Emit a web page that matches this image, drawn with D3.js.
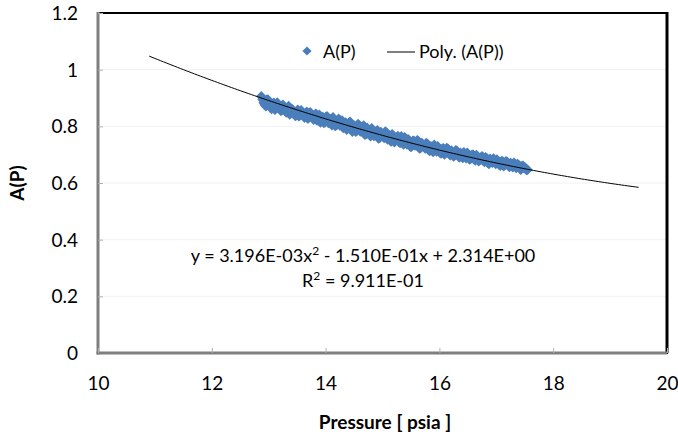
<!DOCTYPE html>
<html>
<head>
<meta charset="utf-8">
<script src="https://cdn.jsdelivr.net/npm/d3@7"></script>
<style>
  html, body { margin: 0; padding: 0; background: #fff; }
  svg { display: block; font-family: Lato, "Open Sans", "Noto Sans", sans-serif; }
</style>
</head>
<body>
<svg id="chart" width="678" height="440"></svg>
<script>
// Measured A(P) values against pressure [psia], first sweep
const pressure = [
  12.87, 12.91, 12.95, 12.99, 13.03, 13.07, 13.11, 13.15, 13.19, 13.23,
  13.27, 13.31, 13.35, 13.39, 13.43, 13.47, 13.51, 13.55, 13.59, 13.63,
  13.67, 13.71, 13.75, 13.79, 13.83, 13.87, 13.91, 13.95, 13.99, 14.03,
  14.07, 14.11, 14.15, 14.19, 14.23, 14.27, 14.31, 14.35, 14.39, 14.43,
  14.47, 14.51, 14.55, 14.59, 14.63, 14.67, 14.71, 14.75, 14.79, 14.83,
  14.87, 14.91, 14.95, 14.99, 15.03, 15.07, 15.11, 15.15, 15.19, 15.23,
  15.27, 15.31, 15.35, 15.39, 15.43, 15.47, 15.51, 15.55, 15.59, 15.63,
  15.67, 15.71, 15.75, 15.79, 15.83, 15.87, 15.91, 15.95, 15.99, 16.03,
  16.07, 16.11, 16.15, 16.19, 16.23, 16.27, 16.31, 16.35, 16.39, 16.43,
  16.47, 16.51, 16.55, 16.59, 16.63, 16.67, 16.71, 16.75, 16.79, 16.83,
  16.87, 16.91, 16.95, 16.99, 17.03, 17.07, 17.11, 17.15, 17.19, 17.23,
  17.27, 17.31, 17.35, 17.39, 17.43, 17.47, 17.51, 17.55
];
const aValues = [
  0.906, 0.883, 0.871, 0.894, 0.871, 0.879, 0.858, 0.884, 0.867, 0.856,
  0.869, 0.849, 0.872, 0.850, 0.854, 0.836, 0.859, 0.839, 0.846, 0.830,
  0.852, 0.833, 0.840, 0.823, 0.845, 0.826, 0.813, 0.833, 0.814, 0.835,
  0.816, 0.804, 0.823, 0.804, 0.827, 0.807, 0.794, 0.814, 0.795, 0.816,
  0.781, 0.797, 0.784, 0.803, 0.784, 0.803, 0.772, 0.786, 0.765, 0.787,
  0.774, 0.786, 0.759, 0.775, 0.759, 0.778, 0.759, 0.746, 0.766, 0.750,
  0.766, 0.741, 0.752, 0.762, 0.736, 0.749, 0.728, 0.749, 0.733, 0.748,
  0.723, 0.736, 0.722, 0.738, 0.713, 0.725, 0.735, 0.711, 0.724, 0.704,
  0.723, 0.708, 0.721, 0.698, 0.710, 0.698, 0.713, 0.690, 0.701, 0.709,
  0.687, 0.700, 0.685, 0.701, 0.679, 0.694, 0.680, 0.695, 0.674, 0.688,
  0.667, 0.681, 0.687, 0.667, 0.678, 0.661, 0.677, 0.663, 0.675, 0.656,
  0.668, 0.672, 0.653, 0.665, 0.647, 0.661, 0.654, 0.647
];

// Second sweep
const pressure2 = [
  12.89, 12.93, 12.97, 13.01, 13.05, 13.09, 13.13, 13.17, 13.21, 13.25,
  13.29, 13.33, 13.37, 13.41, 13.45, 13.49, 13.53, 13.57, 13.61, 13.65,
  13.69, 13.73, 13.77, 13.81, 13.85, 13.89, 13.93, 13.97, 14.01, 14.05,
  14.09, 14.13, 14.17, 14.21, 14.25, 14.29, 14.33, 14.37, 14.41, 14.45,
  14.49, 14.53, 14.57, 14.61, 14.65, 14.69, 14.73, 14.77, 14.81, 14.85,
  14.89, 14.93, 14.97, 15.01, 15.05, 15.09, 15.13, 15.17, 15.21, 15.25,
  15.29, 15.33, 15.37, 15.41, 15.45, 15.49, 15.53, 15.57, 15.61, 15.65,
  15.69, 15.73, 15.77, 15.81, 15.85, 15.89, 15.93, 15.97, 16.01, 16.05,
  16.09, 16.13, 16.17, 16.21, 16.25, 16.29, 16.33, 16.37, 16.41, 16.45,
  16.49, 16.53, 16.57, 16.61, 16.65, 16.69, 16.73, 16.77, 16.81, 16.85,
  16.89, 16.93, 16.97, 17.01, 17.05, 17.09, 17.13, 17.17, 17.21, 17.25,
  17.29, 17.33, 17.37, 17.41, 17.45, 17.49, 17.53
];
const aValues2 = [
  0.895, 0.876, 0.895, 0.880, 0.861, 0.883, 0.867, 0.873, 0.855, 0.876,
  0.855, 0.860, 0.842, 0.861, 0.843, 0.851, 0.835, 0.857, 0.838, 0.846,
  0.827, 0.850, 0.830, 0.841, 0.820, 0.841, 0.825, 0.812, 0.835, 0.812,
  0.825, 0.832, 0.801, 0.816, 0.803, 0.821, 0.802, 0.788, 0.813, 0.794,
  0.805, 0.781, 0.808, 0.782, 0.793, 0.770, 0.795, 0.777, 0.793, 0.766,
  0.782, 0.757, 0.780, 0.764, 0.782, 0.753, 0.768, 0.772, 0.744, 0.759,
  0.745, 0.765, 0.736, 0.747, 0.755, 0.728, 0.748, 0.732, 0.751, 0.722,
  0.741, 0.727, 0.741, 0.716, 0.730, 0.709, 0.724, 0.730, 0.707, 0.721,
  0.700, 0.724, 0.703, 0.715, 0.693, 0.716, 0.697, 0.707, 0.688, 0.699,
  0.707, 0.683, 0.699, 0.684, 0.699, 0.677, 0.690, 0.679, 0.691, 0.671,
  0.686, 0.671, 0.679, 0.683, 0.664, 0.677, 0.659, 0.677, 0.664, 0.671,
  0.655, 0.664, 0.667, 0.652, 0.660, 0.653, 0.646
];

// Second-order polynomial trend: y = c2*x^2 + c1*x + c0
const polyCoeffs = [3.196e-3, -1.510e-1, 2.314];
const trendRange = [10.9, 19.5];
const r2 = 0.9911;

const xTicks = [10, 12, 14, 16, 18, 20];
const yTicks = [0, 0.2, 0.4, 0.6, 0.8, 1.0, 1.2];

const svg = d3.select("#chart");
const plot = { left: 98, top: 13, right: 667, bottom: 353 };

const x = d3.scaleLinear().domain([10, 20]).range([plot.left, plot.right]);
const y = d3.scaleLinear().domain([0, 1.2]).range([plot.bottom, plot.top]);

// Faint horizontal gridlines
svg.append("g")
  .selectAll("line")
  .data(yTicks.slice(1, -1))
  .join("line")
  .attr("x1", plot.left).attr("x2", plot.right)
  .attr("y1", d => y(d)).attr("y2", d => y(d))
  .attr("stroke", "#f2f2f2").attr("stroke-width", 1);

// Plot-area frame
svg.append("rect")
  .attr("x", plot.left).attr("y", plot.top)
  .attr("width", plot.right - plot.left).attr("height", plot.bottom - plot.top)
  .attr("fill", "none").attr("stroke", "#000").attr("stroke-width", 2);
svg.append("line")
  .attr("x1", plot.right).attr("x2", plot.right)
  .attr("y1", plot.top - 1).attr("y2", plot.bottom)
  .attr("stroke", "#000").attr("stroke-width", 3);

// Axes (inner tick marks, gray axis lines)
const fmtY = d => d === 0 ? "0" : (d === 1 ? "1" : d3.format(".1f")(d));
const yAxis = svg.append("g")
  .attr("transform", `translate(${plot.left},0)`)
  .call(d3.axisLeft(y).tickValues(yTicks).tickFormat(fmtY).tickSizeInner(-5).tickSizeOuter(0).tickPadding(20));
const xAxis = svg.append("g")
  .attr("transform", `translate(0,${plot.bottom})`)
  .call(d3.axisBottom(x).tickValues(xTicks).tickFormat(d3.format("d")).tickSizeInner(-5).tickSizeOuter(0).tickPadding(24));

[yAxis, xAxis].forEach(g => {
  g.select(".domain").attr("stroke", "#7f7f7f").attr("stroke-width", 3);
  g.selectAll(".tick line").attr("stroke", "#b0b0b0");
  g.selectAll(".tick text").attr("font-size", 19).attr("fill", "#000")
    .attr("font-family", "Lato, 'Open Sans', sans-serif");
});
xAxis.select(".domain").attr("d", `M${plot.left - 1.5},0H${plot.right}`);
yAxis.select(".domain").attr("d", `M0,${plot.top - 1}V${plot.bottom + 1.5}`);
yAxis.selectAll(".tick text").attr("dy", "0.35em");

// Scatter markers: diamonds
const r = 5.2;
const diamondPath = `M0,${-r}L${r},0L0,${r}L${-r},0Z`;
const pts = pressure.map((p, i) => ({ p, a: aValues[i] }))
  .concat(pressure2.map((p, i) => ({ p, a: aValues2[i] })));
svg.append("g")
  .selectAll("path")
  .data(pts)
  .join("path")
  .attr("d", diamondPath)
  .attr("transform", d => `translate(${x(d.p)},${y(d.a)})`)
  .attr("fill", "#4a7ebb");

// Polynomial trendline
const poly = v => polyCoeffs[0] * v * v + polyCoeffs[1] * v + polyCoeffs[2];
const trendX = d3.range(trendRange[0], trendRange[1] + 1e-9, 0.05);
svg.append("path")
  .datum(trendX)
  .attr("fill", "none")
  .attr("stroke", "#000")
  .attr("stroke-width", 1)
  .attr("d", d3.line().x(v => x(v)).y(v => y(poly(v))));

// Legend
const legend = svg.append("g").attr("font-size", 18);
legend.append("path")
  .attr("d", `M0,-4.6L4.6,0L0,4.6L-4.6,0Z`)
  .attr("transform", "translate(307,51)")
  .attr("fill", "#4a7ebb");
legend.append("text").attr("x", 323).attr("y", 58).text("A(P)");
legend.append("line")
  .attr("x1", 387).attr("x2", 415).attr("y1", 52).attr("y2", 52)
  .attr("stroke", "#000").attr("stroke-width", 1);
legend.append("text").attr("x", 419).attr("y", 58).text("Poly. (A(P))");

// Trendline equation and R²
const eqFmt = v => {
  const s = v.toExponential(3).toUpperCase();
  return s.replace(/E([+-])(\d)$/, "E$10$2");
};
const eq = svg.append("text")
  .attr("x", 363).attr("y", 262)
  .attr("text-anchor", "middle").attr("font-size", 18);
eq.append("tspan").text(`y = ${eqFmt(polyCoeffs[0])}x`);
eq.append("tspan").attr("dy", -7).attr("font-size", 12).text("2");
eq.append("tspan").attr("dy", 7)
  .text(` - ${eqFmt(Math.abs(polyCoeffs[1]))}x + ${eqFmt(polyCoeffs[2])}`);
const rt = svg.append("text")
  .attr("x", 363).attr("y", 287)
  .attr("text-anchor", "middle").attr("font-size", 18);
rt.append("tspan").text("R");
rt.append("tspan").attr("dy", -7).attr("font-size", 12).text("2");
rt.append("tspan").attr("dy", 7).text(` = ${eqFmt(r2)}`);

// Axis titles
svg.append("text")
  .attr("x", 385).attr("y", 429)
  .attr("text-anchor", "middle").attr("font-size", 19).attr("font-weight", "bold")
  .text("Pressure [ psia ]");
svg.append("text")
  .attr("transform", "translate(24,183) rotate(-90)")
  .attr("text-anchor", "middle").attr("font-size", 19).attr("font-weight", "bold")
  .text("A(P)");
</script>
</body>
</html>
